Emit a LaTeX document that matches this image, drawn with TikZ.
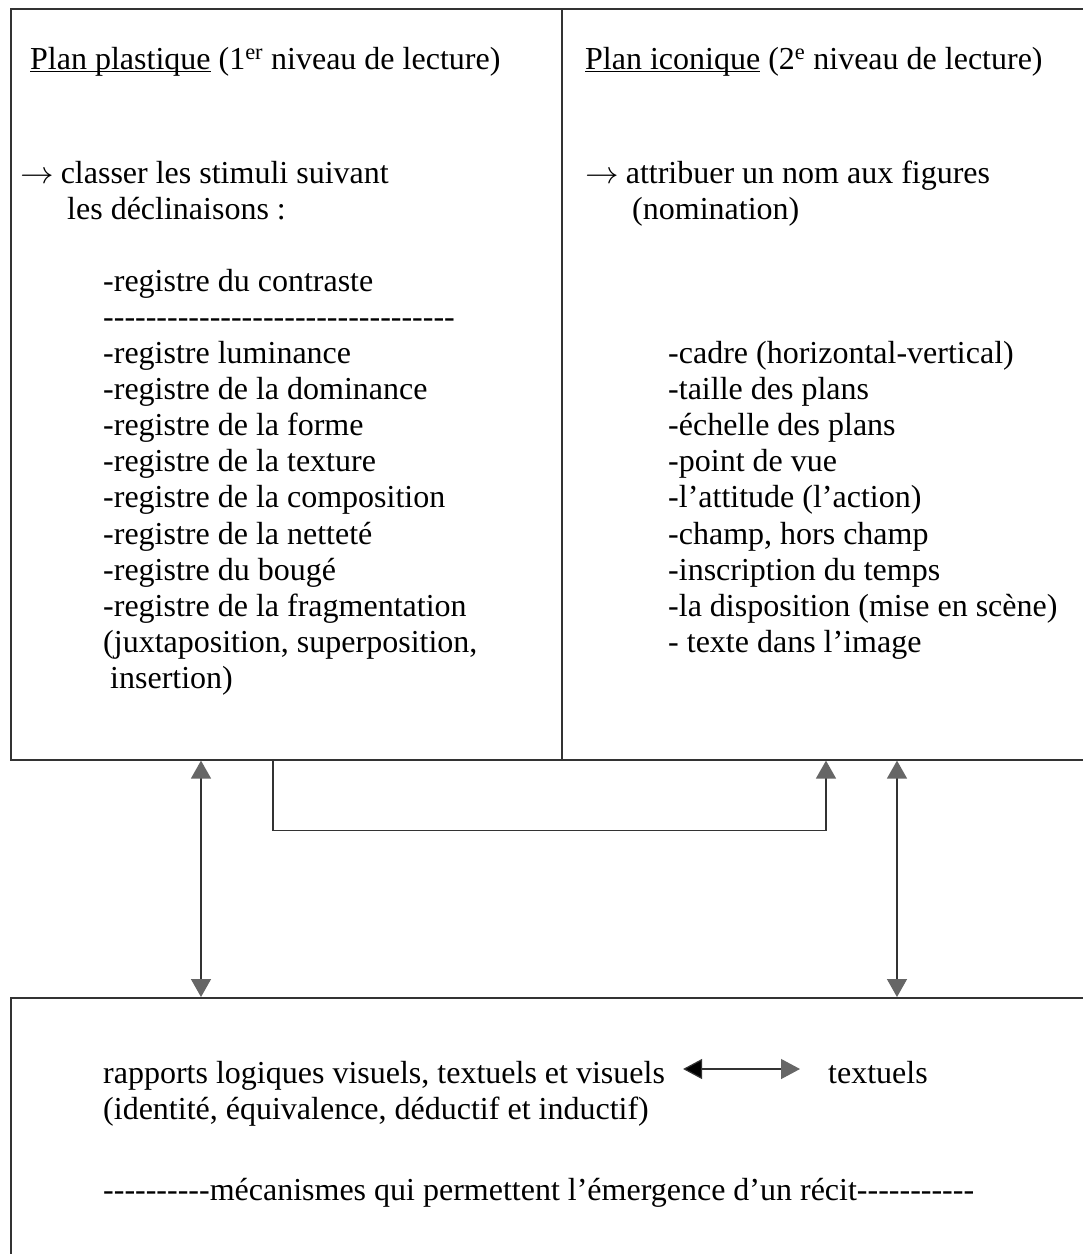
\documentclass[tikz,border=0pt]{standalone}
\usepackage{fontspec}
\setmainfont{Liberation Serif}[Ligatures=TeXOff]
\usetikzlibrary{arrows.meta}
\definecolor{linecol}{HTML}{333333}
\definecolor{tipcol}{HTML}{666666}
% underline drawn close to the baseline, crossing descenders
\newcommand\baseul[1]{\setbox0\hbox{#1}\rlap{\rule[-3.2pt]{\wd0}{1.3pt}}\box0\relax}
% long thin arrow that opens a line
\newcommand\leadarrow{\scalebox{1.35}[1.25]{$\rightarrow$}\hspace{7pt}}
\tikzset{
  gt/.tip={Triangle[width=20pt,length=18pt,color=tipcol,fill=tipcol]},
  panel/.style={draw=linecol,line width=1.6pt,inner sep=0pt,anchor=north west},
  txt/.style={anchor=base west,inner sep=0pt,font=\fontsize{32}{36}\selectfont},
  link/.style={draw=linecol,line width=1.4pt},
}
\begin{document}
\begin{tikzpicture}[x=1pt,y=-1pt]
\clip (0,0) rectangle (1083,1254);
\fill[white] (0,0) rectangle (1083,1254);

% the three panels (right and bottom edges run past the page)
\node[panel,minimum width=551pt,minimum height=751pt] (plastique) at (10,8) {};
\node[panel,minimum width=540pt,minimum height=751pt] (iconique) at (561,8) {};
\node[panel,minimum width=1090pt,minimum height=270pt] (recit) at (10,997) {};

% plan plastique
\node[txt] (p0) at (30,69) {\baseul{Plan plastique} (1\textsuperscript{er} niveau de lecture)};
\node[txt] (p1) at (20,183) {\leadarrow classer les stimuli suivant};
\node[txt] (p2) at (67,219) {les déclinaisons :};
\node[txt] (p3) at (103,291) {-registre du contraste};
\node[txt] (p4) at (103,327) {---------------------------------};
\node[txt] (p5) at (103,363) {-registre luminance};
\node[txt] (p6) at (103,399.2) {-registre de la dominance};
\node[txt] (p7) at (103,435.4) {-registre de la forme};
\node[txt] (p8) at (103,471.6) {-registre de la texture};
\node[txt] (p9) at (103,507.8) {-registre de la composition};
\node[txt] (p10) at (103,544) {-registre de la netteté};
\node[txt] (p11) at (103,580.2) {-registre du bougé};
\node[txt] (p12) at (103,616.4) {-registre de la fragmentation};
\node[txt] (p13) at (103,652.6) {(juxtaposition, superposition,};
\node[txt] (p14) at (110,688.8) {insertion)};

% plan iconique
\node[txt] (i0) at (585,69) {\baseul{Plan iconique} (2\textsuperscript{e} niveau de lecture)};
\node[txt] (i1) at (585,183) {\leadarrow attribuer un nom aux figures};
\node[txt] (i2) at (632,219) {(nomination)};
\node[txt] (i3) at (668,363) {-cadre (horizontal-vertical)};
\node[txt] (i4) at (668,399.2) {-taille des plans};
\node[txt] (i5) at (668,435.4) {-échelle des plans};
\node[txt] (i6) at (668,471.6) {-point de vue};
\node[txt] (i7) at (668,507.8) {-l’attitude (l’action)};
\node[txt] (i8) at (668,544) {-champ, hors champ};
\node[txt] (i9) at (668,580.2) {-inscription du temps};
\node[txt] (i10) at (668,616.4) {-la disposition (mise en scène)};
\node[txt] (i11) at (668,652.6) {- texte dans l’image};

% récit
\node[txt] (r1) at (103,1083) {rapports logiques visuels, textuels et visuels};
\node[txt] (r2) at (828,1083) {textuels};
\node[txt] (r3) at (103,1119) {(identité, équivalence, déductif et inductif)};
\node[txt] (r4) at (103,1200) {----------mécanismes qui permettent l’émergence d’un récit-----------};

\draw[link,line width=1.2pt,
  {Triangle[width=20pt,length=19pt,fill=black]}-{Triangle[width=20pt,length=19pt,color=tipcol,fill=tipcol]}]
  ([xshift=18pt,yshift=14pt]r1.base east) -- ([xshift=-28pt,yshift=14pt]r2.base west);

% connectors between the panels
\draw[link,{gt}-{gt}] ([xshift=191pt]plastique.south west) -- ([xshift=191pt]plastique.south west |- recit.north);
\draw[link,{gt}-{gt}] ([xshift=336pt]iconique.south west) -- ([xshift=336pt]iconique.south west |- recit.north);
\draw[link,-{gt}] ([xshift=263pt]plastique.south west) -- ++(0,70) -| ([xshift=265pt]iconique.south west);
\end{tikzpicture}
\end{document}
